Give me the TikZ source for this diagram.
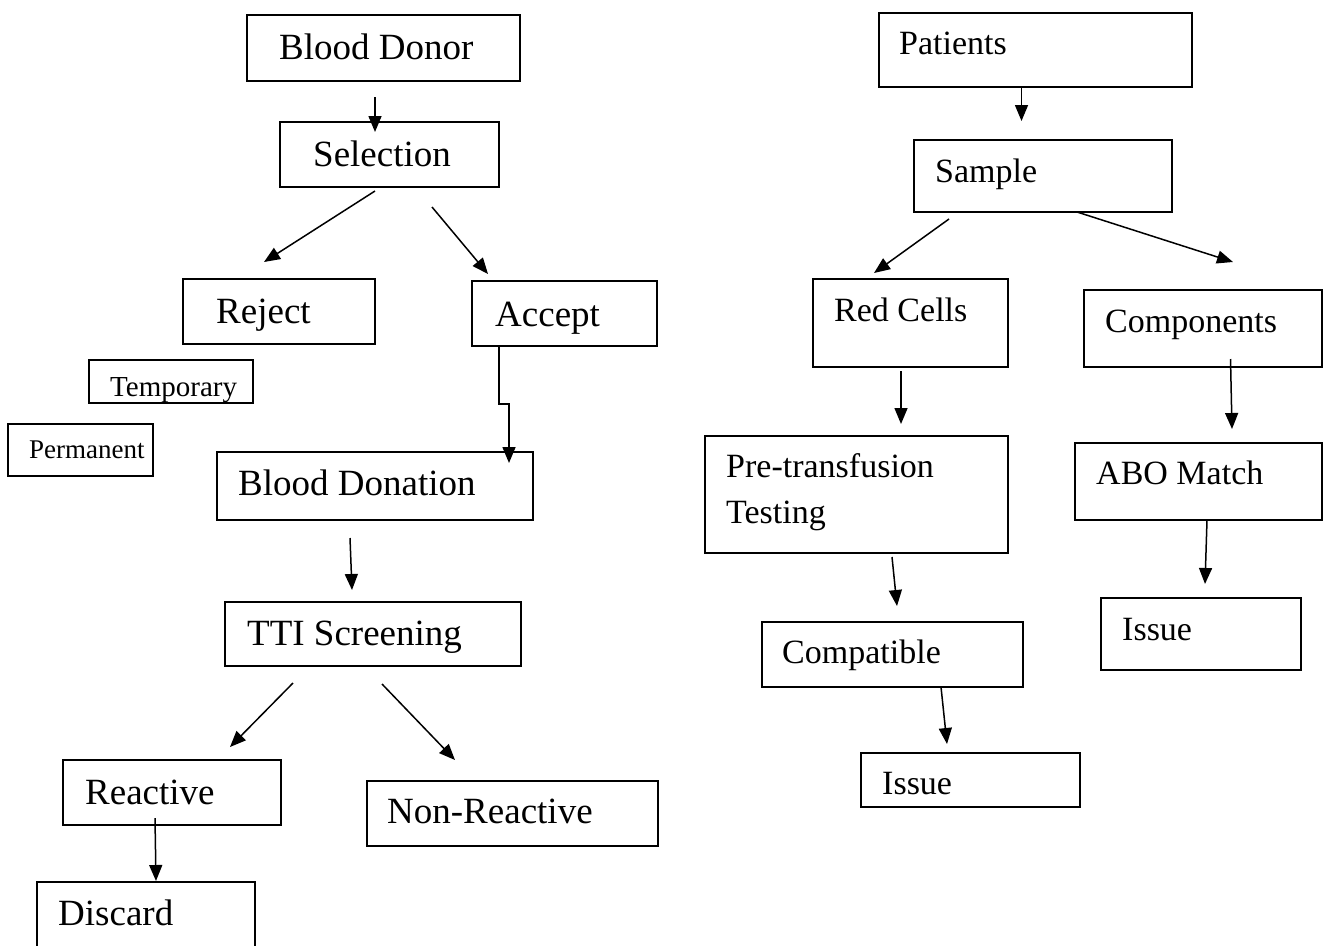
\documentclass[tikz,border=0pt]{standalone}
\usepackage{fontspec}
\setmainfont{Liberation Serif}
\usetikzlibrary{arrows.meta,fit}
\tikzset{
  box/.style={draw, line width=1.8pt, inner sep=0pt, outer sep=0pt},
  arr/.style={line width=1.5pt, -{Triangle[length=16pt,width=13pt]}},
  big/.style={anchor=base west, inner sep=0pt, font=\fontsize{37}{44}\selectfont},
  mid/.style={anchor=base west, inner sep=0pt, font=\fontsize{34}{46}\selectfont, align=left},
}
\begin{document}
\begin{tikzpicture}[x=1pt,y=-1pt]
\useasboundingbox (0,0) rectangle (1329,945);
% boxes
\node[box, fit={(247,15) (520,81)}] (bd) {};
\node[box, fit={(280,122) (499,187)}] (sel) {};
\node[box, fit={(183,279) (375,344)}] (rej) {};
\node[box, fit={(472,281) (657,346)}] (acc) {};
\node[box, fit={(89,360) (253,403)}] (tmp) {};
\node[box, fit={(8,424) (153,476)}] (perm) {};
\node[box, fit={(217,452) (533,520)}] (bdon) {};
\node[box, fit={(225,602) (521,666)}] (tti) {};
\node[box, fit={(63,760) (281,825)}] (react) {};
\node[box, fit={(367,781) (658,846)}] (nonr) {};
\node[box, fit={(37,882) (255,965)}] (disc) {};
\node[box, fit={(879,13) (1192,87)}] (pat) {};
\node[box, fit={(914,140) (1172,212)}] (samp) {};
\node[box, fit={(813,279) (1008,367)}] (red) {};
\node[box, fit={(1084,290) (1322,367)}] (comp) {};
\node[box, fit={(705,436) (1008,553)}] (pre) {};
\node[box, fit={(1075,443) (1322,520)}] (abo) {};
\node[box, fit={(762,622) (1023,687)}] (compat) {};
\node[box, fit={(1101,598) (1301,670)}] (issB) {};
\node[box, fit={(861,753) (1080,807)}] (issA) {};
% texts
\node[big] (tbd) at (279,59) {Blood Donor};
\node[big] (tsel) at (313,166) {Selection};
\node[big] (trej) at (216,323) {Reject};
\node[big] (tacc) at (495,326) {Accept};
\node[anchor=base west, inner sep=0pt, font=\fontsize{29}{34}\selectfont] (ttmp) at (110,396) {Temporary};
\node[anchor=base west, inner sep=0pt, font=\fontsize{27}{32}\selectfont] (tperm) at (29,458) {Permanent};
\node[big] (tbdon) at (238,495) {Blood Donation};
\node[big] (ttti) at (247,645) {TTI Screening};
\node[big] (treact) at (85,804) {Reactive};
\node[big] (tnonr) at (387,823) {Non-Reactive};
\node[big] (tdisc) at (58,925) {Discard};
\node[mid] (tpat) at (899,54) {Patients};
\node[mid] (tsamp) at (935,182) {Sample};
\node[mid] (tred) at (834,321) {Red Cells};
\node[mid] (tcomp) at (1105,332) {Components};
\node[mid] (tpre) at (726,523) {Pre-transfusion\\Testing};
\node[mid] (tabo) at (1096,484) {ABO Match};
\node[mid] (tcompat) at (782,663) {Compatible};
\node[mid] (tissB) at (1122,640) {Issue};
\node[mid] (tissA) at (882,794) {Issue};
% connectors
\draw[arr] ([shift={(128,16)}]bd.south west) -- ([shift={(95,10)}]sel.north west);
\draw[arr] ([shift={(95,4)}]sel.south west) -- ([shift={(81,-17)}]rej.north west);
\draw[arr] ([shift={(152,20)}]sel.south west) -- ([shift={(16,-7)}]acc.north west);
\draw[arr] ([shift={(27,0)}]acc.south west) -- ++(0,58) -| ([shift={(292,11)}]bdon.north west);
\draw[arr] ([shift={(133,18)}]bdon.south west) -- ([shift={(127,-12)}]tti.north west);
\draw[arr] ([shift={(68,17)}]tti.south west) -- ([shift={(167,-13)}]react.north west);
\draw[arr] ([shift={(157,18)}]tti.south west) -- ([shift={(88,-21)}]nonr.north west);
\draw[arr] ([shift={(92,-7)}]react.south west) -- ([shift={(119,-1)}]disc.north west);
\draw[arr] ([shift={(142.5,0)}]pat.south west) -- ([shift={(107.5,-19)}]samp.north west);
\draw[arr] ([shift={(35,7)}]samp.south west) -- ([shift={(61,-6)}]red.north west);
\draw[arr] ([shift={(163,0)}]samp.south west) -- ([shift={(149,-28)}]comp.north west);
\draw[arr] ([shift={(88,4)}]red.south west) -- ([shift={(196,-12)}]pre.north west);
\draw[arr] ([shift={(146.5,-8)}]comp.south west) -- ([shift={(157,-14)}]abo.north west);
\draw[arr] ([shift={(187,4)}]pre.south west) -- ([shift={(135,-16)}]compat.north west);
\draw[arr] ([shift={(132,0)}]abo.south west) -- ([shift={(104,-14)}]issB.north west);
\draw[arr] ([shift={(179,0)}]compat.south west) -- ([shift={(86,-9)}]issA.north west);
\end{tikzpicture}
\end{document}
